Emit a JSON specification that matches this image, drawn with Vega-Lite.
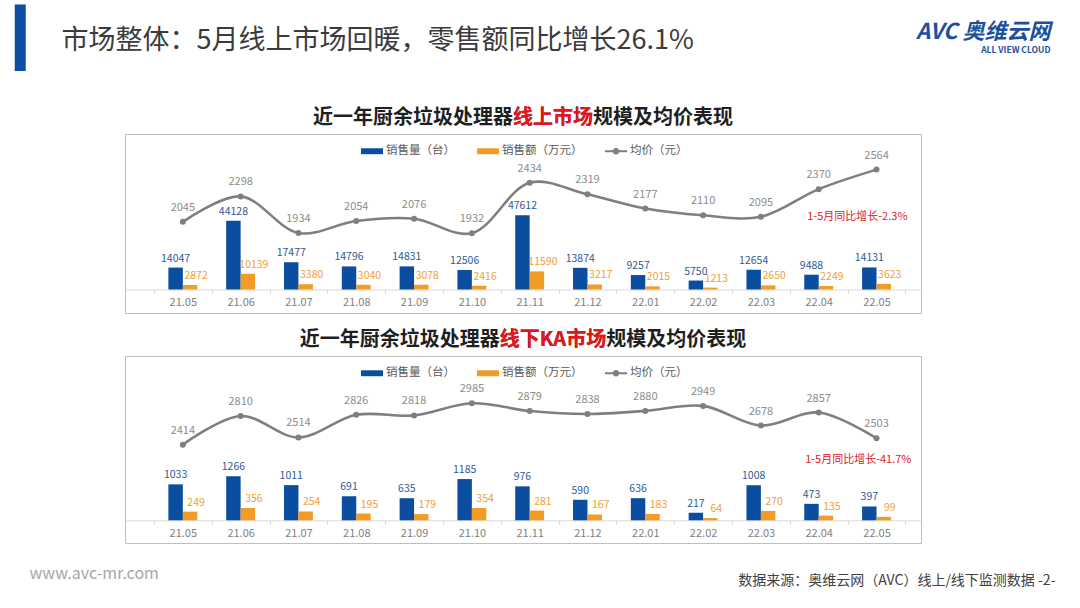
{
  "$schema": "https://vega.github.io/schema/vega-lite/v6.json",
  "background": "white",
  "autosize": {"type": "none"},
  "padding": {"left": 125, "top": 134, "right": 955, "bottom": 474},
  "datasets": {
    "online": [
      {"month": "21.05", "series": "销售量（台）", "value": 14047},
      {"month": "21.06", "series": "销售量（台）", "value": 44128},
      {"month": "21.07", "series": "销售量（台）", "value": 17477},
      {"month": "21.08", "series": "销售量（台）", "value": 14796},
      {"month": "21.09", "series": "销售量（台）", "value": 14831},
      {"month": "21.10", "series": "销售量（台）", "value": 12506},
      {"month": "21.11", "series": "销售量（台）", "value": 47612},
      {"month": "21.12", "series": "销售量（台）", "value": 13874},
      {"month": "22.01", "series": "销售量（台）", "value": 9257},
      {"month": "22.02", "series": "销售量（台）", "value": 5750},
      {"month": "22.03", "series": "销售量（台）", "value": 12654},
      {"month": "22.04", "series": "销售量（台）", "value": 9488},
      {"month": "22.05", "series": "销售量（台）", "value": 14131},
      {"month": "21.05", "series": "销售额（万元）", "value": 2872},
      {"month": "21.06", "series": "销售额（万元）", "value": 10139},
      {"month": "21.07", "series": "销售额（万元）", "value": 3380},
      {"month": "21.08", "series": "销售额（万元）", "value": 3040},
      {"month": "21.09", "series": "销售额（万元）", "value": 3078},
      {"month": "21.10", "series": "销售额（万元）", "value": 2416},
      {"month": "21.11", "series": "销售额（万元）", "value": 11590},
      {"month": "21.12", "series": "销售额（万元）", "value": 3217},
      {"month": "22.01", "series": "销售额（万元）", "value": 2015},
      {"month": "22.02", "series": "销售额（万元）", "value": 1213},
      {"month": "22.03", "series": "销售额（万元）", "value": 2650},
      {"month": "22.04", "series": "销售额（万元）", "value": 2249},
      {"month": "22.05", "series": "销售额（万元）", "value": 3623},
      {"month": "21.05", "series": "均价（元）", "value": 2045},
      {"month": "21.06", "series": "均价（元）", "value": 2298},
      {"month": "21.07", "series": "均价（元）", "value": 1934},
      {"month": "21.08", "series": "均价（元）", "value": 2054},
      {"month": "21.09", "series": "均价（元）", "value": 2076},
      {"month": "21.10", "series": "均价（元）", "value": 1932},
      {"month": "21.11", "series": "均价（元）", "value": 2434},
      {"month": "21.12", "series": "均价（元）", "value": 2319},
      {"month": "22.01", "series": "均价（元）", "value": 2177},
      {"month": "22.02", "series": "均价（元）", "value": 2110},
      {"month": "22.03", "series": "均价（元）", "value": 2095},
      {"month": "22.04", "series": "均价（元）", "value": 2370},
      {"month": "22.05", "series": "均价（元）", "value": 2564},
      {"month": "22.05", "series": "注", "note": "1-5月同比增长-2.3%", "value": 2096}
    ],
    "offline": [
      {"month": "21.05", "series": "销售量（台）", "value": 1033},
      {"month": "21.06", "series": "销售量（台）", "value": 1266},
      {"month": "21.07", "series": "销售量（台）", "value": 1011},
      {"month": "21.08", "series": "销售量（台）", "value": 691},
      {"month": "21.09", "series": "销售量（台）", "value": 635},
      {"month": "21.10", "series": "销售量（台）", "value": 1185},
      {"month": "21.11", "series": "销售量（台）", "value": 976},
      {"month": "21.12", "series": "销售量（台）", "value": 590},
      {"month": "22.01", "series": "销售量（台）", "value": 636},
      {"month": "22.02", "series": "销售量（台）", "value": 217},
      {"month": "22.03", "series": "销售量（台）", "value": 1008},
      {"month": "22.04", "series": "销售量（台）", "value": 473},
      {"month": "22.05", "series": "销售量（台）", "value": 397},
      {"month": "21.05", "series": "销售额（万元）", "value": 249},
      {"month": "21.06", "series": "销售额（万元）", "value": 356},
      {"month": "21.07", "series": "销售额（万元）", "value": 254},
      {"month": "21.08", "series": "销售额（万元）", "value": 195},
      {"month": "21.09", "series": "销售额（万元）", "value": 179},
      {"month": "21.10", "series": "销售额（万元）", "value": 354},
      {"month": "21.11", "series": "销售额（万元）", "value": 281},
      {"month": "21.12", "series": "销售额（万元）", "value": 167},
      {"month": "22.01", "series": "销售额（万元）", "value": 183},
      {"month": "22.02", "series": "销售额（万元）", "value": 64},
      {"month": "22.03", "series": "销售额（万元）", "value": 270},
      {"month": "22.04", "series": "销售额（万元）", "value": 135},
      {"month": "22.05", "series": "销售额（万元）", "value": 99},
      {"month": "21.05", "series": "均价（元）", "value": 2414},
      {"month": "21.06", "series": "均价（元）", "value": 2810},
      {"month": "21.07", "series": "均价（元）", "value": 2514},
      {"month": "21.08", "series": "均价（元）", "value": 2826},
      {"month": "21.09", "series": "均价（元）", "value": 2818},
      {"month": "21.10", "series": "均价（元）", "value": 2985},
      {"month": "21.11", "series": "均价（元）", "value": 2879},
      {"month": "21.12", "series": "均价（元）", "value": 2838},
      {"month": "22.01", "series": "均价（元）", "value": 2880},
      {"month": "22.02", "series": "均价（元）", "value": 2949},
      {"month": "22.03", "series": "均价（元）", "value": 2678},
      {"month": "22.04", "series": "均价（元）", "value": 2857},
      {"month": "22.05", "series": "均价（元）", "value": 2503},
      {"month": "22.05", "series": "注", "note": "1-5月同比增长-41.7%", "value": 2207}
    ]
  },
  "title": {
    "text": "市场整体：5月线上市场回暖，零售额同比增长26.1%",
    "anchor": "start",
    "frame": "bounds",
    "font": "Noto Sans CJK SC",
    "fontSize": 27,
    "fontWeight": "normal",
    "color": "#3b3b3b",
    "offset": 0,
    "dx": 46,
    "dy": 43
  },
  "vconcat": [
    {
      "title": {
        "text": "▎",
        "anchor": "start",
        "frame": "bounds",
        "font": "DejaVu Sans",
        "fontSize": 56,
        "fontWeight": "normal",
        "color": "#0d4fa0",
        "offset": 0,
        "dx": -14,
        "dy": 48
      },
      "vconcat": [
        {
          "title": {
            "text": "AVC 奥维云网",
            "subtitle": "ALL VIEW CLOUD",
            "anchor": "end",
            "frame": "bounds",
            "fontSize": 22,
            "fontWeight": "bold",
            "fontStyle": "italic",
            "color": "#1d4fa0",
            "subtitleFontSize": 8.5,
            "subtitleFontWeight": "bold",
            "subtitleColor": "#1d4fa0",
            "subtitlePadding": 2,
            "offset": 52,
            "dx": -5
          },
          "vconcat": [
            {
              "title": {
                "text": "www.avc-mr.com",
                "orient": "bottom",
                "anchor": "start",
                "frame": "bounds",
                "fontSize": 16,
                "fontWeight": "normal",
                "color": "#a6a6a6",
                "offset": 0,
                "dx": -95,
                "dy": -22
              },
              "vconcat": [
                {
                  "title": {
                    "text": "数据来源：奥维云网（AVC）线上/线下监测数据  -2-",
                    "orient": "bottom",
                    "anchor": "end",
                    "frame": "bounds",
                    "fontSize": 14,
                    "fontWeight": "normal",
                    "color": "#404040",
                    "offset": 30,
                    "dx": 134
                  },
                  "spacing": 15,
                  "resolve": {
                    "scale": {"x": "independent", "y": "independent", "color": "independent", "xOffset": "independent"},
                    "legend": {"color": "independent"}
                  },
                  "vconcat": [
                    {
                      "width": 796,
                      "height": 179,
                      "data": {"name": "online"},
                      "title": {
                        "text": "近一年厨余垃圾处理器线上市场规模及均价表现",
                        "subtitle": "\u200b\u3000\u3000\u3000\u3000\u3000\u3000\u3000\u3000\u3000\u3000线上市场\u3000\u3000\u3000\u3000\u3000\u3000\u3000\u200b",
                        "anchor": "middle",
                        "frame": "group",
                        "fontSize": 20,
                        "fontWeight": "bold",
                        "color": "#1f1f1f",
                        "subtitleFontSize": 20,
                        "subtitleFontWeight": "bold",
                        "subtitleColor": "#e8161b",
                        "subtitlePadding": -20,
                        "offset": 6
                      },
                      "resolve": {"scale": {"y": "independent"}},
                      "layer": [
                        {
                          "layer": [
                            {
                              "transform": [{"filter": {"field": "series", "oneOf": ["销售量（台）", "销售额（万元）"]}}],
                              "mark": {"type": "bar"},
                              "encoding": {
                                "x": {"field": "month", "type": "ordinal", "scale": {"paddingInner": 0, "paddingOuter": 0.385, "align": 0.65},
                                  "axis": {"title": null, "labelAngle": 0, "offset": -23.5, "domainColor": "#d9d9d9", "tickColor": "#d9d9d9", "tickSize": 4, "tickBand": "extent", "labelColor": "#7f7f7f", "labelFontSize": 11, "labelPadding": 3, "grid": false}},
                                "xOffset": {"field": "series", "type": "nominal", "scale": {"domain": ["销售量（台）", "销售额（万元）"], "paddingInner": 0, "paddingOuter": 1.22}},
                                "y": {"field": "value", "type": "quantitative", "scale": {"domain": [-15064, 99679], "nice": false, "zero": false}, "axis": null},
                                "color": {"field": "series", "type": "nominal",
                                  "scale": {"domain": ["销售量（台）", "销售额（万元）", "均价（元）"], "range": ["#0b4ea0", "#f29b26", "#7f7f7f"]},
                                  "legend": {"orient": "none", "legendX": 236, "legendY": 6, "direction": "horizontal", "title": null,
                                    "symbolSize": 484, "labelFontSize": 11.5, "labelColor": "#595959", "labelOffset": 3, "columnPadding": 22, "symbolStrokeWidth": 0,
                                    "encode": {"symbols": {"update": {
                                      "shape": {"signal": "datum.value === '均价（元）' ? 'M-1,-0.09H1V0.09H-1Z M0.3,0A0.3,0.3 0 1 1 -0.3,0A0.3,0.3 0 1 1 0.3,0Z' : 'M-1,-0.27H1V0.27H-1Z'"},
                                      "fill": {"signal": "datum.value === '均价（元）' ? '#7f7f7f' : datum.value === '销售量（台）' ? '#0b4ea0' : '#f29b26'"},
                                      "stroke": {"value": "transparent"},
                                      "opacity": {"value": 1}
                                    }}}
                                  }
                                }
                              }
                            },
                            {
                              "transform": [{"filter": "datum.series === '销售量（台）'"}],
                              "mark": {"type": "text", "baseline": "bottom", "dy": -4, "fontSize": 10.5, "color": "#2f5a96"},
                              "encoding": {
                                "x": {"field": "month", "type": "ordinal"},
                                "xOffset": {"field": "series", "type": "nominal"},
                                "y": {"field": "value", "type": "quantitative", "scale": {"domain": [-15064, 99679], "nice": false, "zero": false}},
                                "text": {"field": "value", "type": "quantitative", "format": "d"}
                              }
                            },
                            {
                              "transform": [{"filter": "datum.series === '销售额（万元）'"}],
                              "mark": {"type": "text", "baseline": "bottom", "dx": 6, "dy": -4, "fontSize": 10.5, "color": "#f0a035"},
                              "encoding": {
                                "x": {"field": "month", "type": "ordinal"},
                                "xOffset": {"field": "series", "type": "nominal"},
                                "y": {"field": "value", "type": "quantitative", "scale": {"domain": [-15064, 99679], "nice": false, "zero": false}},
                                "text": {"field": "value", "type": "quantitative", "format": "d"}
                              }
                            }
                          ]
                        },
                        {
                          "layer": [
                            {
                              "transform": [{"filter": "datum.series === '均价（元）'"}],
                              "mark": {"type": "line", "interpolate": "catmull-rom", "strokeWidth": 2.6, "point": {"filled": true, "size": 36, "color": "#6f6f6f"}},
                              "encoding": {
                                "x": {"field": "month", "type": "ordinal"},
                                "y": {"field": "value", "type": "quantitative", "scale": {"domain": [1139, 2918], "nice": false, "zero": false}, "axis": null},
                                "color": {"datum": "均价（元）"}
                              }
                            },
                            {
                              "transform": [{"filter": "datum.series === '均价（元）'"}],
                              "mark": {"type": "text", "baseline": "bottom", "dy": -9, "fontSize": 11, "color": "#8c8c8c"},
                              "encoding": {
                                "x": {"field": "month", "type": "ordinal"},
                                "y": {"field": "value", "type": "quantitative", "scale": {"domain": [1139, 2918], "nice": false, "zero": false}},
                                "text": {"field": "value", "type": "quantitative", "format": "d"}
                              }
                            },
                            {
                              "transform": [{"filter": "datum.series === '注'"}],
                              "mark": {"type": "text", "align": "right", "baseline": "middle", "dx": 31, "fontSize": 11, "color": "#e02020"},
                              "encoding": {
                                "x": {"field": "month", "type": "ordinal"},
                                "y": {"field": "value", "type": "quantitative", "scale": {"domain": [1139, 2918], "nice": false, "zero": false}},
                                "text": {"field": "note", "type": "nominal"}
                              }
                            }
                          ]
                        }
                      ]
                    },
                    {
                      "width": 796,
                      "height": 187,
                      "data": {"name": "offline"},
                      "title": {
                        "text": "近一年厨余垃圾处理器线下KA市场规模及均价表现",
                        "subtitle": "\u200b\u3000\u3000\u3000\u3000\u3000\u3000\u3000\u3000\u3000\u3000线下KA市场\u3000\u3000\u3000\u3000\u3000\u3000\u3000\u200b",
                        "anchor": "middle",
                        "frame": "group",
                        "fontSize": 20,
                        "fontWeight": "bold",
                        "color": "#1f1f1f",
                        "subtitleFontSize": 20,
                        "subtitleFontWeight": "bold",
                        "subtitleColor": "#e8161b",
                        "subtitlePadding": -20,
                        "offset": 6
                      },
                      "resolve": {"scale": {"y": "independent"}},
                      "layer": [
                        {
                          "layer": [
                            {
                              "transform": [{"filter": {"field": "series", "oneOf": ["销售量（台）", "销售额（万元）"]}}],
                              "mark": {"type": "bar"},
                              "encoding": {
                                "x": {"field": "month", "type": "ordinal", "scale": {"paddingInner": 0, "paddingOuter": 0.385, "align": 0.65},
                                  "axis": {"title": null, "labelAngle": 0, "offset": -22.7, "domainColor": "#d9d9d9", "tickColor": "#d9d9d9", "tickSize": 4, "tickBand": "extent", "labelColor": "#7f7f7f", "labelFontSize": 11, "labelPadding": 3, "grid": false}},
                                "xOffset": {"field": "series", "type": "nominal", "scale": {"domain": ["销售量（台）", "销售额（万元）"], "paddingInner": 0, "paddingOuter": 1.22}},
                                "y": {"field": "value", "type": "quantitative", "scale": {"domain": [-652, 4721], "nice": false, "zero": false}, "axis": null},
                                "color": {"field": "series", "type": "nominal",
                                  "scale": {"domain": ["销售量（台）", "销售额（万元）", "均价（元）"], "range": ["#0b4ea0", "#f29b26", "#7f7f7f"]},
                                  "legend": {"orient": "none", "legendX": 236, "legendY": 6, "direction": "horizontal", "title": null,
                                    "symbolSize": 484, "labelFontSize": 11.5, "labelColor": "#595959", "labelOffset": 3, "columnPadding": 22, "symbolStrokeWidth": 0,
                                    "encode": {"symbols": {"update": {
                                      "shape": {"signal": "datum.value === '均价（元）' ? 'M-1,-0.09H1V0.09H-1Z M0.3,0A0.3,0.3 0 1 1 -0.3,0A0.3,0.3 0 1 1 0.3,0Z' : 'M-1,-0.27H1V0.27H-1Z'"},
                                      "fill": {"signal": "datum.value === '均价（元）' ? '#7f7f7f' : datum.value === '销售量（台）' ? '#0b4ea0' : '#f29b26'"},
                                      "stroke": {"value": "transparent"},
                                      "opacity": {"value": 1}
                                    }}}
                                  }
                                }
                              }
                            },
                            {
                              "transform": [{"filter": "datum.series === '销售量（台）'"}],
                              "mark": {"type": "text", "baseline": "bottom", "dy": -4, "fontSize": 10.5, "color": "#2f5a96"},
                              "encoding": {
                                "x": {"field": "month", "type": "ordinal"},
                                "xOffset": {"field": "series", "type": "nominal"},
                                "y": {"field": "value", "type": "quantitative", "scale": {"domain": [-652, 4721], "nice": false, "zero": false}},
                                "text": {"field": "value", "type": "quantitative", "format": "d"}
                              }
                            },
                            {
                              "transform": [{"filter": "datum.series === '销售额（万元）'"}],
                              "mark": {"type": "text", "baseline": "bottom", "dx": 6, "dy": -4, "fontSize": 10.5, "color": "#f0a035"},
                              "encoding": {
                                "x": {"field": "month", "type": "ordinal"},
                                "xOffset": {"field": "series", "type": "nominal"},
                                "y": {"field": "value", "type": "quantitative", "scale": {"domain": [-652, 4721], "nice": false, "zero": false}},
                                "text": {"field": "value", "type": "quantitative", "format": "d"}
                              }
                            }
                          ]
                        },
                        {
                          "layer": [
                            {
                              "transform": [{"filter": "datum.series === '均价（元）'"}],
                              "mark": {"type": "line", "interpolate": "catmull-rom", "strokeWidth": 2.6, "point": {"filled": true, "size": 36, "color": "#6f6f6f"}},
                              "encoding": {
                                "x": {"field": "month", "type": "ordinal"},
                                "y": {"field": "value", "type": "quantitative", "scale": {"domain": [1058, 3637], "nice": false, "zero": false}, "axis": null},
                                "color": {"datum": "均价（元）"}
                              }
                            },
                            {
                              "transform": [{"filter": "datum.series === '均价（元）'"}],
                              "mark": {"type": "text", "baseline": "bottom", "dy": -9, "fontSize": 11, "color": "#8c8c8c"},
                              "encoding": {
                                "x": {"field": "month", "type": "ordinal"},
                                "y": {"field": "value", "type": "quantitative", "scale": {"domain": [1058, 3637], "nice": false, "zero": false}},
                                "text": {"field": "value", "type": "quantitative", "format": "d"}
                              }
                            },
                            {
                              "transform": [{"filter": "datum.series === '注'"}],
                              "mark": {"type": "text", "align": "right", "baseline": "middle", "dx": 35, "fontSize": 11, "color": "#e02020"},
                              "encoding": {
                                "x": {"field": "month", "type": "ordinal"},
                                "y": {"field": "value", "type": "quantitative", "scale": {"domain": [1058, 3637], "nice": false, "zero": false}},
                                "text": {"field": "note", "type": "nominal"}
                              }
                            }
                          ]
                        }
                      ]
                    }
                  ]
                }
              ]
            }
          ]
        }
      ]
    }
  ],
  "config": {
    "font": "Noto Sans CJK SC",
    "view": {"stroke": "#bfbfbf", "strokeWidth": 1},
    "axis": {"grid": false}
  }
}
